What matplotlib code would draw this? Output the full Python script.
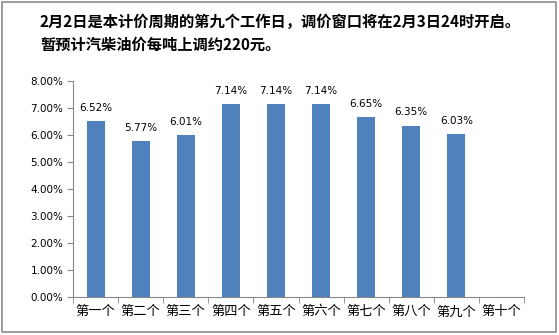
import matplotlib
matplotlib.use("Agg")
import matplotlib.pyplot as plt
from matplotlib.patches import Rectangle
from matplotlib.ticker import FuncFormatter, MultipleLocator

plt.rcParams["font.family"] = ["Noto Sans CJK SC", "DejaVu Sans"]

# Price change rate for each working day of the pricing cycle (percent).
categories = ["第一个", "第二个", "第三个", "第四个", "第五个",
              "第六个", "第七个", "第八个", "第九个", "第十个"]
rates = [6.52, 5.77, 6.01, 7.14, 7.14, 7.14, 6.65, 6.35, 6.03, None]

title_lines = ["2月2日是本计价周期的第九个工作日，调价窗口将在2月3日24时开启。",
               "暂预计汽柴油价每吨上调约220元。"]

BAR = "#4F81BD"
AXIS = "#888888"

fig = plt.figure(figsize=(5.59, 3.35), dpi=100)
ax = fig.add_axes([73 / 559, 1 - 297 / 335, (524 - 73) / 559, (297 - 81) / 335])

# outer frame round the whole chart
fig.patches.append(Rectangle((2 / 559, 3 / 335), 554 / 559, 330 / 335,
                             transform=fig.transFigure, fill=False,
                             edgecolor="#8C8C8C", linewidth=1.2))

fig.text(40 / 559, 1 - 22 / 335, title_lines[0], fontsize=11,
         fontweight="bold", ha="left", va="center")
fig.text(40 / 559, 1 - 45 / 335, title_lines[1], fontsize=11,
         fontweight="bold", ha="left", va="center")

xs = list(range(len(categories)))
for x, v in zip(xs, rates):
    if v is None:
        continue
    ax.bar(x, v, width=0.4, color=BAR, zorder=2)
    ax.text(x, v + 0.3, f"{v:.2f}%", ha="center", va="bottom",
            fontsize=7.5, family=["DejaVu Sans"])

ax.set_xlim(-0.5, len(categories) - 0.5)
ax.set_ylim(0, 8)
ax.yaxis.set_major_locator(MultipleLocator(1))
ax.yaxis.set_major_formatter(FuncFormatter(lambda v, _: f"{v:.2f}%"))

ax.set_xticks(xs)
ax.set_xticklabels(categories, fontsize=9.5)
ax.set_xticks([i - 0.5 for i in range(len(categories) + 1)], minor=True)
ax.tick_params(axis="x", which="major", length=0, pad=6)
ax.tick_params(axis="x", which="minor", length=4, color=AXIS)
ax.tick_params(axis="y", length=4, color=AXIS, labelsize=7.5, pad=3)
for lab in ax.get_yticklabels():
    lab.set_family(["DejaVu Sans"])

for side in ("top", "right"):
    ax.spines[side].set_visible(False)
for side in ("left", "bottom"):
    ax.spines[side].set_color(AXIS)

fig.savefig("out.png", dpi=100)
